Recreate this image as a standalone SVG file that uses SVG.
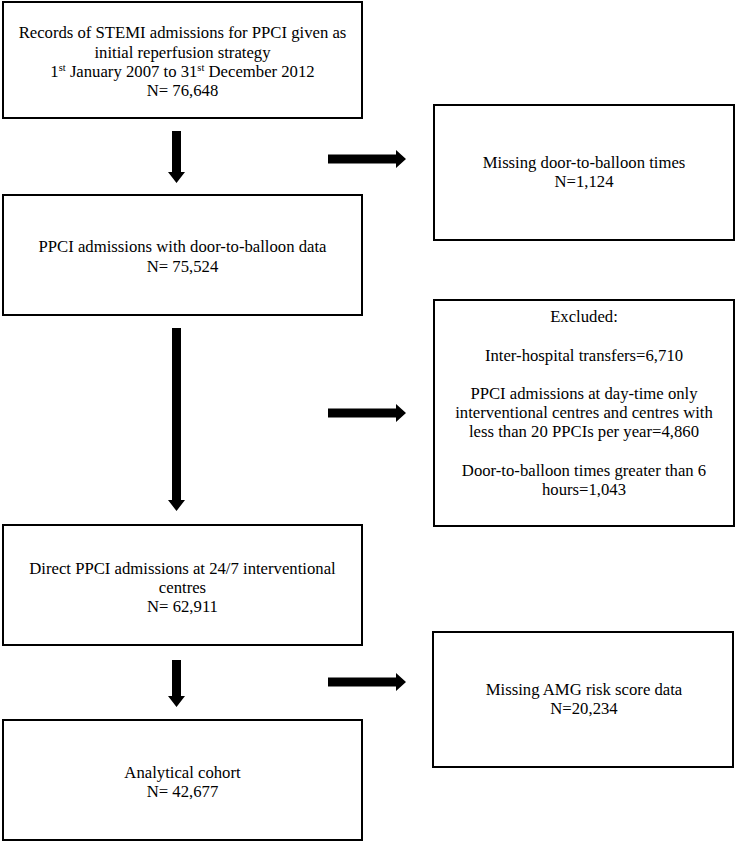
<svg xmlns="http://www.w3.org/2000/svg" width="736" height="842" viewBox="0 0 736 842">
<style>
.box{fill:#fff;stroke:#000;stroke-width:2}
text{font-family:"Liberation Serif","Times New Roman",serif;font-size:16.7px;fill:#000;text-anchor:middle}
.arr{fill:#000}
</style>
<rect width="736" height="842" fill="#fff"/>
<g id="n1"><rect class="box" x="3" y="2" width="359" height="116"/>
<text x="182.5" y="38">Records of STEMI admissions for PPCI given as</text>
<text x="182.5" y="58">initial reperfusion strategy</text>
<text x="182.5" y="77">1<tspan font-size="10.5" dy="-6">st</tspan><tspan dy="6"> January 2007 to 31</tspan><tspan font-size="10.5" dy="-6">st</tspan><tspan dy="6"> December 2012</tspan></text>
<text x="182.5" y="96">N= 76,648</text></g>
<g id="n2"><rect class="box" x="3" y="195" width="359" height="120"/>
<text x="182.5" y="252">PPCI admissions with door-to-balloon data</text>
<text x="182.5" y="272">N= 75,524</text></g>
<g id="n3"><rect class="box" x="3" y="525" width="359" height="120"/>
<text x="182.5" y="574">Direct PPCI admissions at 24/7 interventional</text>
<text x="182.5" y="593">centres</text>
<text x="182.5" y="612">N= 62,911</text></g>
<g id="n4"><rect class="box" x="3" y="720" width="359" height="120"/>
<text x="182.5" y="778">Analytical cohort</text>
<text x="182.5" y="797">N= 42,677</text></g>
<g id="r1"><rect class="box" x="434" y="105" width="300" height="135"/>
<text x="584" y="168">Missing door-to-balloon times</text>
<text x="584" y="187">N=1,124</text></g>
<g id="r2"><rect class="box" x="434" y="300" width="300" height="226"/>
<text x="584" y="322">Excluded:</text>
<text x="584" y="361">Inter-hospital transfers=6,710</text>
<text x="584" y="399">PPCI admissions at day-time only</text>
<text x="584" y="418">interventional centres and centres with</text>
<text x="584" y="437">less than 20 PPCIs per year=4,860</text>
<text x="584" y="476">Door-to-balloon times greater than 6</text>
<text x="584" y="495">hours=1,043</text></g>
<g id="r3"><rect class="box" x="433" y="632" width="300" height="135"/>
<text x="584" y="695">Missing AMG risk score data</text>
<text x="584" y="714">N=20,234</text></g>
<g id="connectors">
<polygon class="arr" points="172,131 181,131 181,172 185,172 176.5,183 168,172 172,172"/>
<polygon class="arr" points="172,328 181,328 181,500 185,500 176.5,511 168,500 172,500"/>
<polygon class="arr" points="172,660 181,660 181,696 185,696 176.5,707 168,696 172,696"/>
<polygon class="arr" points="328,154.5 396,154.5 396,150 406,159 396,168 396,163.5 328,163.5"/>
<polygon class="arr" points="328,408.5 396,408.5 396,404 406,413 396,422 396,417.5 328,417.5"/>
<polygon class="arr" points="328,677.5 396,677.5 396,673 406,682 396,691 396,686.5 328,686.5"/>
</g>
</svg>
